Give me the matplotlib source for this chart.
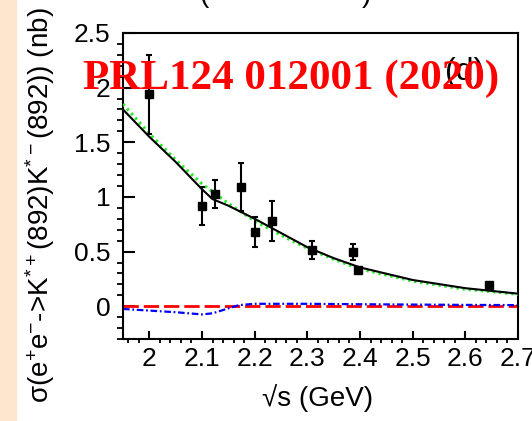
#!/usr/bin/env python3
"""sigma(e+e- -> K*+(892) K*-(892)) vs sqrt(s), with fit components."""
import matplotlib
matplotlib.use("Agg")
import matplotlib.pyplot as plt
from matplotlib.patches import Rectangle
from matplotlib.ticker import MultipleLocator

plt.rcParams["font.family"] = ["Liberation Sans", "DejaVu Sans"]
plt.rcParams["mathtext.fontset"] = "custom"
plt.rcParams["mathtext.rm"] = "Liberation Sans"
plt.rcParams["mathtext.default"] = "regular"

# measured points
ECM = [2.0, 2.1, 2.125, 2.175, 2.2, 2.2324, 2.3094, 2.3864, 2.396, 2.6444]
XSEC = [1.94, 0.92, 1.025, 1.09, 0.68, 0.78, 0.515, 0.495, 0.334, 0.19]
XERR = [0.36, 0.175, 0.13, 0.22, 0.14, 0.185, 0.08, 0.075, 0.02, 0.02]

# fit curves
CURVE_X = [1.95, 2.0, 2.05, 2.1, 2.12, 2.15, 2.2, 2.25, 2.3, 2.35, 2.4, 2.5, 2.6, 2.7]
TOTAL = [1.80, 1.55, 1.32, 1.07, 0.98, 0.92, 0.80, 0.67, 0.54, 0.44, 0.355, 0.24, 0.165, 0.115]
GREEN_X = [1.95, 2.0, 2.05, 2.1, 2.15, 2.2, 2.25, 2.3, 2.35, 2.4, 2.5, 2.6, 2.7]
GREEN = [1.85, 1.58, 1.34, 1.12, 0.94, 0.78, 0.65, 0.53, 0.43, 0.34, 0.23, 0.155, 0.11]
RED_X = [1.95, 2.7]
RED = [0.0, 0.0]
BLUE_X = [1.95, 2.0, 2.05, 2.1, 2.12, 2.15, 2.17, 2.2, 2.3, 2.4, 2.5, 2.6, 2.7]
BLUE = [-0.025, -0.04, -0.055, -0.075, -0.065, -0.02, 0.01, 0.022, 0.022, 0.018, 0.015, 0.012, 0.01]

W, H = 532, 421
fig = plt.figure(figsize=(W / 100, H / 100), dpi=100)
fig.patches.append(Rectangle((0, 0), 16 / W, 1, transform=fig.transFigure,
                             color="#fde6cd", zorder=0))

ax = fig.add_axes([123 / W, 1 - 339 / H, 395 / W, 306 / H])

ax.plot(RED_X, RED, color="red", lw=2, dashes=(5.5, 1.8), zorder=2)
ax.plot(BLUE_X, BLUE, color="blue", lw=1.6, dashes=(3, 1.2, 0.8, 1.2), zorder=2)
ax.plot(GREEN_X, GREEN, color="#22ee22", lw=2.2, ls=(0, (0.8, 1.2)), zorder=3)
ax.plot(CURVE_X, TOTAL, color="black", lw=1.5, zorder=4)
ax.errorbar(ECM, XSEC, yerr=XERR, fmt="s", color="black", ms=6, lw=1.5,
            capsize=2, capthick=1.5, zorder=5)

ax.set_xlim(1.95, 2.7)
ax.set_ylim(-0.3, 2.5)
ax.xaxis.set_minor_locator(MultipleLocator(0.02))
ax.yaxis.set_minor_locator(MultipleLocator(0.1))
ax.set_xticks([2.0, 2.1, 2.2, 2.3, 2.4, 2.5, 2.6, 2.7])
ax.set_xticklabels(["2", "2.1", "2.2", "2.3", "2.4", "2.5", "2.6", "2.7"])
ax.set_yticks([0, 0.5, 1, 1.5, 2, 2.5])
ax.set_yticklabels(["0", "0.5", "1", "1.5", "2", "2.5"])
ax.tick_params(axis="both", direction="in", labelsize=19, width=1.5)
ax.tick_params(axis="x", which="major", length=6, pad=6)
ax.tick_params(axis="x", which="minor", length=3, width=1.3)
ax.tick_params(axis="y", which="major", length=8.5, pad=9)
ax.tick_params(axis="y", which="minor", length=4.3, width=1.3)
for s in ax.spines.values():
    s.set_linewidth(1.5)

fig.text(40 / W, 1 - 205 / H,
         "σ(e$^{+}$e$^{-}$->K$^{*+}$(892)K$^{*-}$(892)) (nb)",
         rotation=90, ha="center", va="center", fontsize=20)
fig.text(318 / W, 1 - 398 / H, "√s (GeV)", ha="center", va="center", fontsize=20)

# panel tag and the cut-off heading above it
fig.text(465 / W, 1 - 72 / H, "(d)", ha="center", va="center", fontsize=23)
fig.text(204 / W, 1 - 2 / H, "(", ha="center", va="baseline", fontsize=20)
fig.text(366 / W, 1 - 2 / H, ")", ha="center", va="baseline", fontsize=20)

fig.text(291 / W, 1 - 79 / H, "PRL124 012001 (2020)", ha="center", va="center",
         fontsize=31, fontweight="bold", color="red", family="Liberation Serif")

fig.savefig("out.png", dpi=100)
